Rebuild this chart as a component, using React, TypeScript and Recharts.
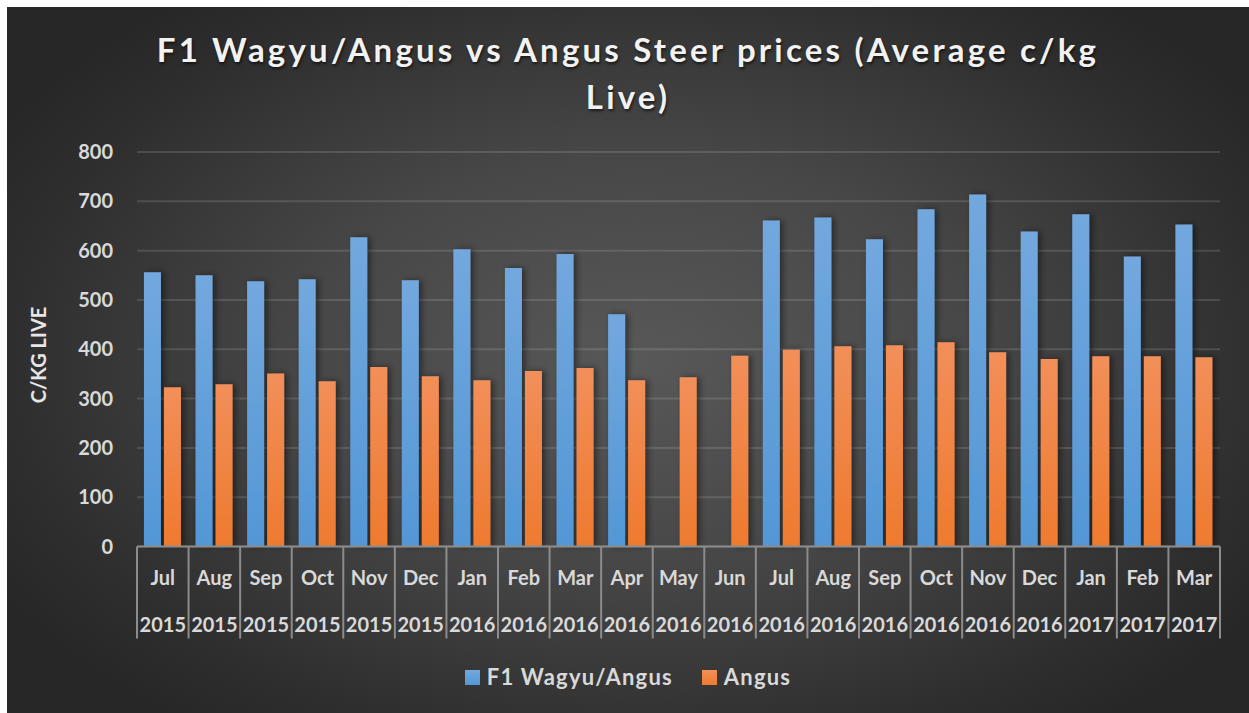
import { BarChart, Bar, XAxis, YAxis, CartesianGrid } from "recharts";

const MONTHS = ["Jul","Aug","Sep","Oct","Nov","Dec","Jan","Feb","Mar","Apr","May","Jun","Jul","Aug","Sep","Oct","Nov","Dec","Jan","Feb","Mar"];
const YEARS = ["2015","2015","2015","2015","2015","2015","2016","2016","2016","2016","2016","2016","2016","2016","2016","2016","2016","2016","2017","2017","2017"];
const WAGYU = [556,550,538,542,627,540,603,565,593,471,null,null,661,667,623,684,714,639,674,588,653];
const ANGUS = [323,329,351,335,364,345,337,356,362,337,343,387,399,406,408,414,394,380,386,386,384];
const Y_TICKS = [0,100,200,300,400,500,600,700,800];

const W = 1242;
const H = 706;
const PLOT_W = 1083;
const FONT = "Lato, 'Open Sans', sans-serif";
const TXT = "#d9d9d9";

const data = MONTHS.map((m, i) => ({
  key: `${m} ${YEARS[i]}`,
  wagyu: WAGYU[i],
  angus: ANGUS[i],
}));

function XTick(props: any) {
  const { x, y, payload } = props;
  const bw = PLOT_W / MONTHS.length;
  const [month, year] = String(payload.value).split(" ");
  const left = x - bw / 2;
  const isLast = payload.value === data[data.length - 1].key;
  const line = { stroke: "#8c8c8c", strokeWidth: 2 };
  return (
    <g>
      <line x1={left} x2={left} y1={y} y2={y + 92} {...line} />
      {isLast && <line x1={left + bw} x2={left + bw} y1={y} y2={y + 92} {...line} />}
      <text x={x} y={y + 38} textAnchor="middle" fill={TXT} fontSize={20} fontWeight={700} fontFamily={FONT}>
        {month}
      </text>
      <text x={x} y={y + 85} textAnchor="middle" fill={TXT} fontSize={20} fontWeight={700} fontFamily={FONT}>
        {year}
      </text>
    </g>
  );
}

export default function App() {
  return (
    <div
      style={{
        position: "absolute",
        left: 7,
        top: 7,
        width: W,
        height: H,
        background: "radial-gradient(ellipse 60% 65% at 51% 50%, #585858 0%, #474747 45%, #2e2e2e 85%, #272727 100%)",
        fontFamily: FONT,
        overflow: "hidden",
      }}
    >
      <div
        style={{
          position: "absolute",
          top: 19,
          left: 0,
          width: W,
          textAlign: "center",
          color: "#f2f2f2",
          fontSize: 33,
          fontWeight: 700,
          lineHeight: "47px",
          letterSpacing: 3.2,
          textShadow: "1px 2px 3px rgba(0,0,0,0.6)",
        }}
      >
        <div>F1 Wagyu/Angus vs Angus Steer prices (Average c/kg</div>
        <div>Live)</div>
      </div>

      <div
        style={{
          position: "absolute",
          left: 31,
          top: 348,
          transform: "translate(-50%, -50%) rotate(-90deg)",
          color: "#e6e6e6",
          fontSize: 20,
          fontWeight: 700,
          whiteSpace: "nowrap",
        }}
      >
        C/KG LIVE
      </div>

      <BarChart
        width={W}
        height={H}
        data={data}
        margin={{ top: 145, right: 29, bottom: 74.5, left: 0 }}
        barCategoryGap="13.5%"
        barGap={3}
      >
        <defs>
          <linearGradient id="gBlue" x1="0" y1="0" x2="0" y2="1">
            <stop offset="0%" stopColor="#73a8de" />
            <stop offset="100%" stopColor="#5397d6" />
          </linearGradient>
          <linearGradient id="gOrange" x1="0" y1="0" x2="0" y2="1">
            <stop offset="0%" stopColor="#f28f5a" />
            <stop offset="100%" stopColor="#ee7a2e" />
          </linearGradient>
          <filter id="shadow" x="-50%" y="-10%" width="200%" height="120%">
            <feDropShadow dx="3" dy="0" stdDeviation="3" floodColor="#000" floodOpacity="0.45" />
          </filter>
        </defs>
        <CartesianGrid vertical={false} stroke="#ffffff" strokeOpacity={0.13} strokeWidth={2} />
        <XAxis
          dataKey="key"
          interval={0}
          height={92}
          tickLine={false}
          tickSize={0}
          tickMargin={0}
          axisLine={{ stroke: "#8c8c8c", strokeWidth: 2 }}
          tick={<XTick />}
        />
        <YAxis
          width={130}
          domain={[0, 800]}
          ticks={Y_TICKS}
          axisLine={false}
          tickLine={false}
          tickSize={0}
          tickMargin={24}
          tick={{ fill: TXT, fontSize: 20, fontWeight: 700, fontFamily: FONT }}
        />
        <Bar dataKey="wagyu" fill="url(#gBlue)" filter="url(#shadow)" isAnimationActive={false} />
        <Bar dataKey="angus" fill="url(#gOrange)" filter="url(#shadow)" isAnimationActive={false} />
      </BarChart>

      <div
        style={{
          position: "absolute",
          top: 656,
          left: 0,
          width: W,
          display: "flex",
          justifyContent: "center",
          alignItems: "center",
          color: TXT,
          fontSize: 22,
          fontWeight: 700,
          letterSpacing: 1.2,
          lineHeight: "28px",
        }}
      >
        <span style={{ width: 15, height: 15, background: "linear-gradient(#73a8de, #5397d6)", marginRight: 7 }} />
        <span style={{ marginRight: 29 }}>F1 Wagyu/Angus</span>
        <span style={{ width: 15, height: 15, background: "linear-gradient(#f28f5a, #ee7a2e)", marginRight: 7 }} />
        <span>Angus</span>
      </div>
    </div>
  );
}
